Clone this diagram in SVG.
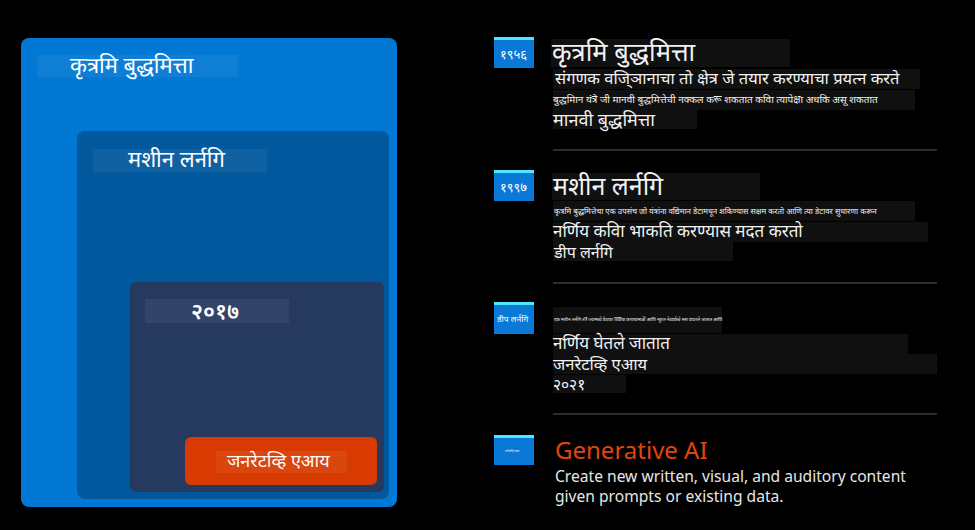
<svg xmlns="http://www.w3.org/2000/svg" width="975" height="530" viewBox="0 0 975 530">
<style>
text{font-family:"Noto Sans","Open Sans",sans-serif;fill:#f2f2f2}
.lbl{fill:#ffffff}
.lblbg{fill:#ffffff;opacity:0.06}
.tbg{fill:#101010}
.sep{stroke:#5a5a5a;stroke-width:1}
.ic{fill:#0a78d6}
.icTop{fill:#50e6ff}
.ict{font-size:13px;fill:#ffffff}
</style>
<rect width="975" height="530" fill="#000"/>

<g id="ai-box">
<rect x="21" y="38" width="376" height="469" rx="8" fill="#0078d4"/>
<rect x="37" y="55" width="201" height="22" class="lblbg"/>
<text x="70" y="73" font-size="22" class="lbl">कृत्रमि बुद्धमित्ता</text>
</g>
<g id="ml-box">
<rect x="77" y="131" width="312" height="368" rx="8" fill="#02589d"/>
<rect x="93" y="149" width="174" height="23" class="lblbg"/>
<text x="128" y="167" font-size="22" class="lbl">मशीन लर्नगि</text>
</g>
<g id="dl-box">
<rect x="130" y="282" width="254" height="210" rx="6" fill="#26395e"/>
<rect x="145" y="299" width="144" height="24" class="lblbg"/>
<text x="191" y="319" font-size="22" font-weight="600" class="lbl">२०१७</text>
</g>
<g id="genai-box">
<rect x="185" y="437" width="192" height="48" rx="6" fill="#d83b01"/>
<rect x="216" y="451" width="131" height="22" class="lblbg"/>
<text x="227" y="467" font-size="18" class="lbl">जनरेटव्हि एआय</text>
</g>

<g id="connectors">
<line x1="553" y1="150" x2="937" y2="150" class="sep"/>
<line x1="553" y1="283" x2="937" y2="283" class="sep"/>
<line x1="553" y1="414" x2="937" y2="414" class="sep"/>
</g>

<g id="item-1956">
<rect x="494" y="37" width="40" height="31" class="ic"/>
<rect x="494" y="37" width="40" height="3" class="icTop"/>
<text x="500" y="59" class="ict">१९५६</text>
<rect x="551" y="39" width="239" height="28" class="tbg"/>
<text x="552" y="61" font-size="25.5">कृत्रमि बुद्धमित्ता</text>
<rect x="553" y="69" width="367" height="20" class="tbg"/>
<text x="555" y="84" font-size="16.5">संगणक वजि्ञानाचा तो क्षेत्र जे तयार करण्याचा प्रयत्न करते</text>
<rect x="553" y="90" width="362" height="20" class="tbg"/>
<text x="553" y="103" font-size="10">बुद्धमिान यंत्रे जी मानवी बुद्धमित्तेची नक्कल करू शकतात कवाि त्यापेक्षा अधकि असू शकतात</text>
<rect x="553" y="110" width="144" height="19" class="tbg"/>
<text x="553" y="126" font-size="18">मानवी बुद्धमित्ता</text>
</g>

<g id="item-1997">
<rect x="494" y="170" width="40" height="31" class="ic"/>
<rect x="494" y="170" width="40" height="3" class="icTop"/>
<text x="500" y="192" class="ict">१९९७</text>
<rect x="552" y="173" width="208" height="27" class="tbg"/>
<text x="553" y="195" font-size="25">मशीन लर्नगि</text>
<rect x="553" y="201" width="362" height="20" class="tbg"/>
<text x="554" y="214" font-size="7.9">कृत्रमि बुद्धमित्तेचा एक उपसंच जो यंत्रांना वद्यिमान डेटामधून शकिण्यास सक्षम करतो आणि त्या डेटावर सुधारणा करून</text>
<rect x="553" y="222" width="375" height="20" class="tbg"/>
<text x="553" y="237" font-size="17">नर्णिय कविा भाकति करण्यास मदत करतो</text>
<rect x="553" y="242" width="180" height="19" class="tbg"/>
<text x="554" y="258" font-size="16">डीप लर्नगि</text>
</g>

<g id="item-2017">
<rect x="494" y="302" width="40" height="32" class="ic"/>
<rect x="494" y="302" width="40" height="3" class="icTop"/>
<text x="497" y="322" font-size="8.5" class="lbl">डीप लर्नगि</text>
<rect x="553" y="307" width="169" height="26" class="tbg"/>
<text x="554" y="321" font-size="4.5">एक मशीन लर्नगि तंत्र ज्यामध्ये डेटावर प्रक्रिया करण्यासाठी आणि न्यूरल नेटवर्कचे स्तर वापरले जातात आणि</text>
<rect x="553" y="334" width="355" height="20" class="tbg"/>
<text x="553" y="349" font-size="17">नर्णिय घेतले जातात</text>
<rect x="553" y="354" width="384" height="20" class="tbg"/>
<text x="553" y="370" font-size="16.5">जनरेटव्हि एआय</text>
<rect x="553" y="375" width="73" height="18" class="tbg"/>
<text x="553" y="390" font-size="15.5">२०२१</text>
</g>

<g id="item-2021">
<rect x="494" y="435" width="40" height="30" class="ic"/>
<rect x="494" y="435" width="40" height="3" class="icTop"/>
<text x="505" y="452" font-size="2.5" class="lbl">जनरेटव्हि एआय</text>
<text x="555" y="459" font-size="24" style="fill:#e0450c">Generative AI</text>
<text x="555" y="482" font-size="15.6" style="fill:#e6e6e6">Create new written, visual, and auditory content</text>
<text x="555" y="502" font-size="15.6" style="fill:#e6e6e6">given prompts or existing data.</text>
</g>
</svg>
